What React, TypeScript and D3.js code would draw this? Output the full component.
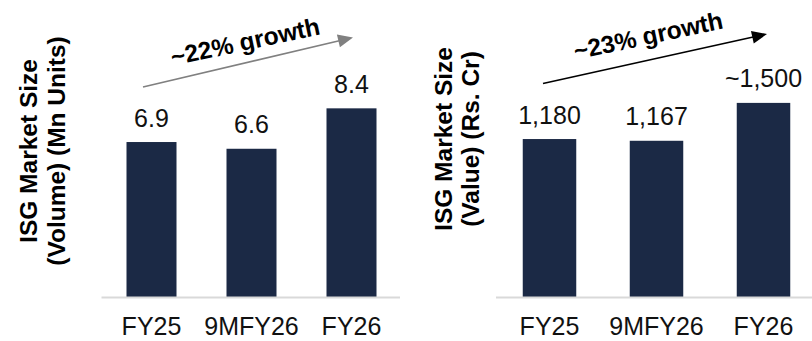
import React from "react";
import * as d3 from "d3";

const categories = ["FY25", "9MFY26", "FY26"];
const volumeValues = [6.9, 6.6, 8.4];
const volumeLabels = ["6.9", "6.6", "8.4"];
const valueValues = [1180, 1167, 1450];
const valueLabels = ["1,180", "1,167", "~1,500"];
const volumeTitle = ["ISG Market Size", "(Volume) (Mn Units)"];
const valueTitle = ["ISG Market Size", "(Value) (Rs. Cr)"];
const volumeGrowth = "~22% growth";
const valueGrowth = "~23% growth";

const W = 812;
const H = 341;
const BASE_Y = 297;
const BAR_COLOR = "#1b2945";
const FONT = "'Liberation Sans', Arial, Helvetica, sans-serif";

type PanelProps = {
  values: number[];
  labels: string[];
  title: string[];
  growth: string;
  xRange: [number, number];
  lineRange: [number, number];
  yMax: number;
  yPix: number;
  titleX: [number, number];
  titleY: number;
  arrow: { x1: number; y1: number; x2: number; y2: number; color: string };
  growthPos: { x: number; y: number; angle: number };
};

function Arrow({ x1, y1, x2, y2, color }: { x1: number; y1: number; x2: number; y2: number; color: string }) {
  const dx = x2 - x1;
  const dy = y2 - y1;
  const len = Math.sqrt(dx * dx + dy * dy);
  const ux = dx / len;
  const uy = dy / len;
  const headLen = 15;
  const headHalf = 6.5;
  const bx = x2 - ux * headLen;
  const by = y2 - uy * headLen;
  const px = -uy;
  const py = ux;
  const pts = [
    [x2, y2],
    [bx + px * headHalf, by + py * headHalf],
    [bx - px * headHalf, by - py * headHalf],
  ];
  return (
    <g>
      <line x1={x1} y1={y1} x2={bx + ux * 2} y2={by + uy * 2} stroke={color} strokeWidth={1.6} />
      <polygon points={pts.map((p) => p.join(",")).join(" ")} fill={color} />
    </g>
  );
}

function Panel(p: PanelProps) {
  const x = d3
    .scaleBand<string>()
    .domain(categories)
    .range(p.xRange)
    .paddingInner(0.5)
    .paddingOuter(0.25);
  const y = d3.scaleLinear().domain([0, p.yMax]).range([BASE_Y, BASE_Y - p.yPix]);
  const bw = x.bandwidth();
  return (
    <g>
      {p.values.map((v, i) => (
        <rect
          key={"b" + i}
          x={x(categories[i])!}
          y={y(v)}
          width={bw}
          height={y(0) - y(v)}
          fill={BAR_COLOR}
        />
      ))}
      <line
        x1={p.lineRange[0]}
        x2={p.lineRange[1]}
        y1={BASE_Y + 0.5}
        y2={BASE_Y + 0.5}
        stroke="#d9d9d9"
        strokeWidth={2}
      />
      {p.values.map((v, i) => (
        <text
          key={"l" + i}
          x={x(categories[i])! + bw / 2}
          y={y(v) - 15.5}
          textAnchor="middle"
          fontFamily={FONT}
          fontSize={25}
          fill="#111"
        >
          {p.labels[i]}
        </text>
      ))}
      {categories.map((c) => (
        <text
          key={"x" + c}
          x={x(c)! + bw / 2}
          y={335}
          textAnchor="middle"
          fontFamily={FONT}
          fontSize={25}
          fill="#111"
        >
          {c}
        </text>
      ))}
      {p.title.map((t, i) => (
        <text
          key={"t" + i}
          transform={`translate(${p.titleX[i]},${p.titleY}) rotate(-90)`}
          textAnchor="middle"
          fontFamily={FONT}
          fontWeight="bold"
          fontSize={24.5}
          fill="#000"
        >
          {t}
        </text>
      ))}
      <Arrow {...p.arrow} />
      <text
        transform={`translate(${p.growthPos.x},${p.growthPos.y}) rotate(${p.growthPos.angle})`}
        textAnchor="middle"
        fontFamily={FONT}
        fontWeight="bold"
        fontSize={24.5}
        fill="#000"
      >
        {p.growth}
      </text>
    </g>
  );
}

export default function App() {
  return (
    <div style={{ position: "absolute", left: 0, top: 0, width: W, height: H, background: "#fff" }}>
      <svg width={W} height={H} viewBox={`0 0 ${W} ${H}`} style={{ display: "block" }}>
        <rect width={W} height={H} fill="#fff" />
        <Panel
          values={volumeValues}
          labels={volumeLabels}
          title={volumeTitle}
          growth={volumeGrowth}
          xRange={[101.5, 401.5]}
          lineRange={[101.5, 400]}
          yMax={10}
          yPix={224.6}
          titleX={[37, 65]}
          titleY={151}
          arrow={{ x1: 143, y1: 87, x2: 353, y2: 37.5, color: "#808080" }}
          growthPos={{ x: 247, y: 50, angle: -12 }}
        />
        <Panel
          values={valueValues}
          labels={valueLabels}
          title={valueTitle}
          growth={valueGrowth}
          xRange={[496, 817]}
          lineRange={[496, 812]}
          yMax={1500}
          yPix={200.8}
          titleX={[452, 479]}
          titleY={139}
          arrow={{ x1: 543, y1: 83.5, x2: 767, y2: 34, color: "#000" }}
          growthPos={{ x: 650, y: 44, angle: -12 }}
        />
      </svg>
    </div>
  );
}
